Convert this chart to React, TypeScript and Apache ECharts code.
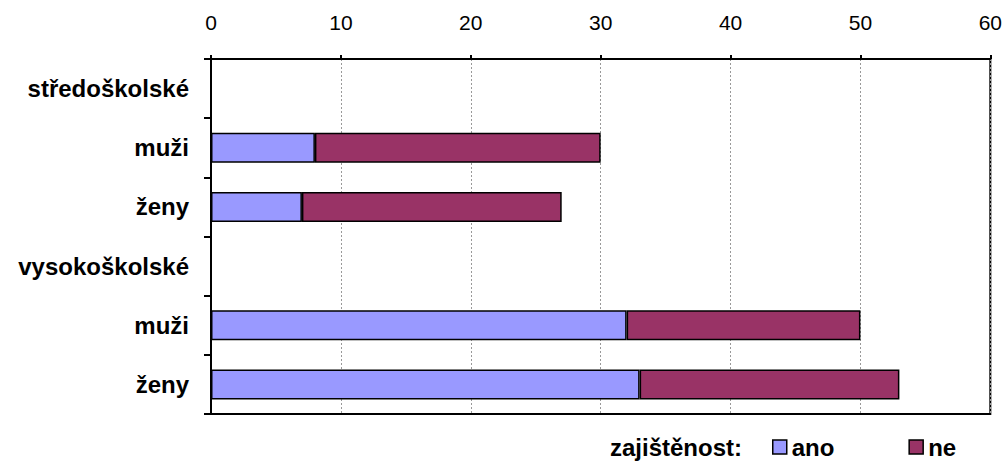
import React, { useEffect, useRef } from "react";
import * as echarts from "echarts";

// Rows from top to bottom: education level headings followed by gender rows
const categories = ["středoškolské", "muži", "ženy", "vysokoškolské", "muži", "ženy"];
const anoValues = [null, 8, 7, null, 32, 33];
const neValues = [null, 22, 20, null, 18, 20];
const xTicks = { min: 0, max: 60, interval: 10 };
const legendTitle = "zajištěnost:";

const FONT = "Arial, 'Liberation Sans', sans-serif";

export default function App() {
  const ref = useRef<HTMLDivElement>(null);

  useEffect(() => {
    document.body.style.margin = "0";
    const chart = echarts.init(ref.current!, null, { renderer: "svg" });
    chart.setOption({
      animation: false,
      backgroundColor: "#ffffff",
      textStyle: { fontFamily: FONT },
      grid: {
        left: 211,
        top: 59,
        right: 14,
        bottom: 47,
        show: true,
        borderColor: "#000",
        borderWidth: 2,
      },
      xAxis: {
        type: "value",
        position: "top",
        min: xTicks.min,
        max: xTicks.max,
        interval: xTicks.interval,
        axisLine: { show: true, lineStyle: { color: "#000", width: 2 } },
        axisTick: { show: true, length: 4, lineStyle: { color: "#000", width: 2 } },
        axisLabel: { color: "#000", fontSize: 21, fontFamily: FONT, margin: 26 },
        splitLine: { show: true, lineStyle: { color: "#999", width: 1, type: [2, 2] } },
      },
      yAxis: {
        type: "category",
        inverse: true,
        data: categories,
        axisLine: { show: true, lineStyle: { color: "#000", width: 2 } },
        axisTick: { show: true, length: 7, lineStyle: { color: "#000", width: 2 } },
        axisLabel: {
          color: "#000",
          fontSize: 24,
          fontWeight: "bold",
          fontFamily: FONT,
          margin: 22,
        },
      },
      legend: {
        left: 772,
        top: 435,
        padding: 0,
        itemWidth: 14,
        itemHeight: 14,
        itemGap: 74,
        icon: "rect",
        textStyle: {
          color: "#000",
          fontSize: 24,
          lineHeight: 24,
          fontWeight: "bold",
          fontFamily: FONT,
        },
        data: [
          { name: "ano", itemStyle: { color: "#9999FF", borderColor: "#000", borderWidth: 1.5 } },
          { name: "ne", itemStyle: { color: "#993366", borderColor: "#000", borderWidth: 1.5 } },
        ],
      },
      graphic: [
        {
          type: "text",
          x: 742,
          y: 447,
          style: {
            text: legendTitle,
            fill: "#000",
            font: `bold 24px ${FONT}`,
            align: "right",
            verticalAlign: "middle",
          },
        },
      ],
      series: [
        {
          name: "ano",
          type: "bar",
          stack: "total",
          barWidth: 30,
          data: anoValues,
          itemStyle: { color: "#9999FF", borderColor: "#000", borderWidth: 1.5 },
        },
        {
          name: "ne",
          type: "bar",
          stack: "total",
          barWidth: 30,
          data: neValues,
          itemStyle: { color: "#993366", borderColor: "#000", borderWidth: 1.5 },
        },
      ],
    });
    return () => chart.dispose();
  }, []);

  return <div ref={ref} style={{ width: 1005, height: 461 }} />;
}
